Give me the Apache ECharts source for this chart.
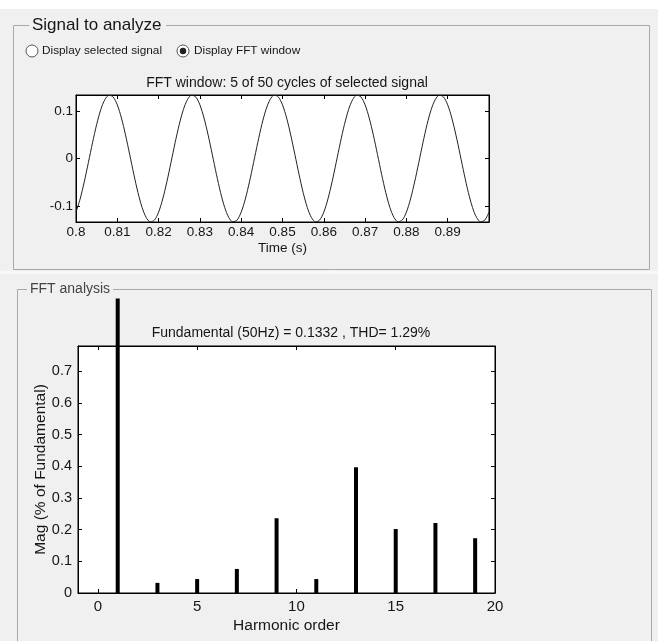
<!DOCTYPE html>
<html>
<head>
<meta charset="utf-8">
<title>FFT analysis</title>
<script src="https://cdn.jsdelivr.net/npm/echarts@6/dist/echarts.min.js"></script>
<style>
  html, body { margin: 0; padding: 0; background: #f0f0f0; }
</style>
</head>
<body>
<div id="main" style="width:658px;height:641px;"></div>
<script type="text/javascript">
// signal window: samples every 1 ms from 0.8 s
var sampleStart = 0.8;
var sampleStep = 0.001;
var signalValues = [
  -0.1125, -0.0849, -0.0490, -0.0084, 0.0331, 0.0714, 0.1026, 0.1238, 0.1329, 0.1290,
  0.1125, 0.0849, 0.0490, 0.0084, -0.0331, -0.0714, -0.1026, -0.1238, -0.1329, -0.1290,
  -0.1125, -0.0849, -0.0490, -0.0084, 0.0331, 0.0714, 0.1026, 0.1238, 0.1329, 0.1290,
  0.1125, 0.0849, 0.0490, 0.0084, -0.0331, -0.0714, -0.1026, -0.1238, -0.1329, -0.1290,
  -0.1125, -0.0849, -0.0490, -0.0084, 0.0331, 0.0714, 0.1026, 0.1238, 0.1329, 0.1290,
  0.1125, 0.0849, 0.0490, 0.0084, -0.0331, -0.0714, -0.1026, -0.1238, -0.1329, -0.1290,
  -0.1125, -0.0849, -0.0490, -0.0084, 0.0331, 0.0714, 0.1026, 0.1238, 0.1329, 0.1290,
  0.1125, 0.0849, 0.0490, 0.0084, -0.0331, -0.0714, -0.1026, -0.1238, -0.1329, -0.1290,
  -0.1125, -0.0849, -0.0490, -0.0084, 0.0331, 0.0714, 0.1026, 0.1238, 0.1329, 0.1290,
  0.1125, 0.0849, 0.0490, 0.0084, -0.0331, -0.0714, -0.1026, -0.1238, -0.1329, -0.1290,
  -0.1125
];
var timeTicks = [0.8, 0.81, 0.82, 0.83, 0.84, 0.85, 0.86, 0.87, 0.88, 0.89];
var signalTicks = [-0.1, 0, 0.1];

// harmonic spectrum (fundamental bar is cut off by the panel)
var harmonicOrders = [1, 3, 5, 7, 9, 11, 13, 15, 17, 19];
var harmonicMags = [0.93, 0.032, 0.044, 0.076, 0.236, 0.044, 0.397, 0.202, 0.221, 0.173];
var orderTicks = [0, 5, 10, 15, 20];
var magTicks = [0, 0.1, 0.2, 0.3, 0.4, 0.5, 0.6, 0.7];

var FONT = 'Liberation Sans, Arial, sans-serif';
var TXT = '#161616';

var signalData = signalValues.map(function (v, i) {
  return [+(sampleStart + i * sampleStep).toFixed(3), v];
});
var harmonicData = harmonicOrders.map(function (h, i) {
  return [h, harmonicMags[i]];
});

function boxAxis(gridIndex, pos, min, max, ticks, labelSize, margin, name, nameGap, nameSize) {
  var showLabel = (pos === 'bottom' || pos === 'left');
  return {
    type: 'value', gridIndex: gridIndex, position: pos,
    min: min, max: max,
    name: showLabel ? name : '',
    nameLocation: 'middle', nameGap: nameGap, nameMoveOverlap: false,
    nameTextStyle: { fontFamily: FONT, fontSize: nameSize || labelSize, color: TXT },
    axisLine: { show: true, onZero: false, lineStyle: { color: '#000', width: 1 } },
    axisTick: { show: true, inside: true, length: 4, customValues: ticks, lineStyle: { color: '#000' } },
    axisLabel: {
      show: showLabel, customValues: ticks, margin: margin,
      fontFamily: FONT, fontSize: labelSize, color: TXT
    },
    splitLine: { show: false }
  };
}

var myChart = echarts.init(document.getElementById('main'), null, { renderer: 'canvas' });

var option = {
  backgroundColor: '#f0f0f0',
  animation: false,
  title: [
    {
      text: 'FFT window: 5 of 50 cycles of selected signal',
      left: 282, top: 71, textAlign: 'center',
      textStyle: { fontFamily: FONT, fontSize: 14, fontWeight: 'normal', color: TXT }
    },
    {
      text: 'Fundamental (50Hz) = 0.1332 , THD= 1.29%',
      left: 286, top: 321, textAlign: 'center',
      textStyle: { fontFamily: FONT, fontSize: 14, fontWeight: 'normal', color: TXT }
    }
  ],
  grid: [
    { left: 76, top: 95, width: 413, height: 127, show: true, backgroundColor: '#fff', borderColor: '#000', borderWidth: 1 },
    { left: 78, top: 346, width: 417, height: 247, show: true, backgroundColor: '#fff', borderColor: '#000', borderWidth: 1 }
  ],
  xAxis: [
    boxAxis(0, 'bottom', 0.8, 0.9, timeTicks, 13.5, 3, 'Time (s)', 19),
    boxAxis(0, 'top', 0.8, 0.9, timeTicks, 13.5, 3, '', 0),
    boxAxis(1, 'bottom', -1, 20, orderTicks, 15, 6, 'Harmonic order', 25, 15.5),
    boxAxis(1, 'top', -1, 20, orderTicks, 15, 6, '', 0)
  ],
  yAxis: [
    boxAxis(0, 'left', -0.1332, 0.1332, signalTicks, 13.5, 3, '', 0),
    boxAxis(0, 'right', -0.1332, 0.1332, signalTicks, 13.5, 3, '', 0),
    boxAxis(1, 'left', 0, 0.78, magTicks, 14.5, 6, 'Mag (% of Fundamental)', 29, 15.5),
    boxAxis(1, 'right', 0, 0.78, magTicks, 14.5, 6, '', 0)
  ],
  series: [
    {
      name: 'signal', type: 'line', xAxisIndex: 0, yAxisIndex: 0,
      data: signalData, showSymbol: false, smooth: 0.3,
      lineStyle: { color: '#222', width: 1 }
    },
    {
      name: 'harmonics', type: 'bar', xAxisIndex: 2, yAxisIndex: 2,
      data: harmonicData, barWidth: 4, clip: false,
      itemStyle: { color: '#000' }
    }
  ],
  graphic: [
    // white strip at the very top
    { type: 'rect', shape: { x: 0, y: 0, width: 658, height: 9 }, style: { fill: '#fff' } },
    // "Signal to analyze" panel
    { type: 'rect', shape: { x: 13.5, y: 25.5, width: 636, height: 244 }, style: { fill: 'none', stroke: '#a8a8a8', lineWidth: 1 } },
    { type: 'rect', shape: { x: 29, y: 15, width: 137, height: 20 }, style: { fill: '#f0f0f0' } },
    { type: 'text', x: 32, y: 25, style: { text: 'Signal to analyze', fontFamily: FONT, fontSize: 17, fill: TXT, verticalAlign: 'middle' } },
    // radio buttons
    { type: 'circle', shape: { cx: 32, cy: 51, r: 6 }, style: { fill: '#fff', stroke: '#555', lineWidth: 1 } },
    { type: 'text', x: 42, y: 51, style: { text: 'Display selected signal', fontFamily: FONT, fontSize: 11.8, fill: TXT, verticalAlign: 'middle' } },
    { type: 'circle', shape: { cx: 183, cy: 51, r: 6 }, style: { fill: '#fff', stroke: '#555', lineWidth: 1 } },
    { type: 'circle', shape: { cx: 183, cy: 51, r: 3.2 }, style: { fill: '#222' } },
    { type: 'text', x: 194, y: 51, style: { text: 'Display FFT window', fontFamily: FONT, fontSize: 11.8, fill: TXT, verticalAlign: 'middle' } },
    // gap between panels
    { type: 'rect', shape: { x: 0, y: 271, width: 658, height: 3 }, style: { fill: '#f8f8f8' } },
    // "FFT analysis" panel
    { type: 'rect', shape: { x: 17.5, y: 289.5, width: 634, height: 360 }, style: { fill: 'none', stroke: '#a8a8a8', lineWidth: 1 } },
    { type: 'rect', shape: { x: 27, y: 280, width: 86, height: 18 }, style: { fill: '#f0f0f0' } },
    { type: 'text', x: 30, y: 289, style: { text: 'FFT analysis', fontFamily: FONT, fontSize: 14, fill: '#444', verticalAlign: 'middle' } }
  ]
};

myChart.setOption(option);
</script>
</body>
</html>
